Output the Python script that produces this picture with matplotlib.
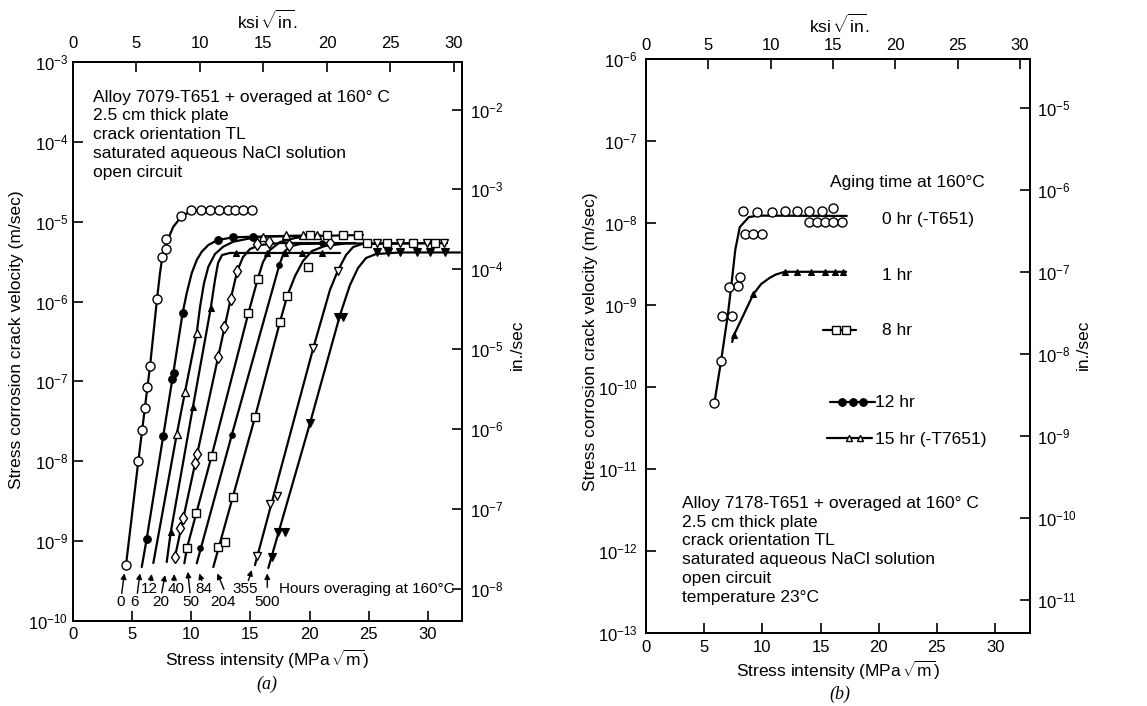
import matplotlib
matplotlib.use("Agg")
import matplotlib.pyplot as plt
from matplotlib.ticker import FixedLocator, NullLocator, LogFormatterSciNotation

plt.rcParams.update({
    "font.family": ["Liberation Sans", "DejaVu Sans"],
    "mathtext.fontset": "custom",
    "mathtext.rm": "Liberation Sans",
    "mathtext.it": "Liberation Sans:italic",
    "mathtext.bf": "Liberation Sans:bold",
    "axes.linewidth": 1.4,
})

M_TO_IN = 39.37  # m/s -> in./sec

# ---------------------------------------------------------------------------
# (a) Alloy 7079-T651 overaged at 160 C : K (MPa*sqrt(m)) vs velocity (m/s)
# ---------------------------------------------------------------------------
hours_a = ["0", "6", "12", "20", "40", "50", "84", "204", "355", "500"]

# 0 hr
k_a0 = [4.48, 5.52, 5.86, 6.09, 6.28, 6.51, 7.10, 7.55, 7.89, 7.89, 9.13,
        9.95, 10.85, 11.60, 12.37, 13.10, 13.72, 14.40, 15.13]
v_a0 = [5.0e-10, 1.0e-8, 2.45e-8, 4.7e-8, 8.6e-8, 1.55e-7, 1.07e-6, 3.65e-6,
        4.5e-6, 6.0e-6, 1.19e-5, 1.4e-5, 1.4e-5, 1.4e-5, 1.4e-5, 1.4e-5,
        1.4e-5, 1.4e-5, 1.4e-5]
fit_k_a0 = [4.48, 5.52, 6.51, 7.10, 7.35, 7.55, 7.78, 8.06, 8.48, 9.04, 9.61,
            10.17, 15.22]
fit_v_a0 = [5.0e-10, 1.0e-8, 1.55e-7, 1.07e-6, 2.26e-6, 3.63e-6, 4.86e-6,
            6.19e-6, 8.65e-6, 1.10e-5, 1.27e-5, 1.37e-5, 1.40e-5]

# 6 hr
k_a6 = [6.23, 7.63, 8.37, 8.51, 9.27, 12.23, 13.55, 15.19]
v_a6 = [1.07e-9, 2.09e-8, 1.07e-7, 1.29e-7, 7.24e-7, 5.9e-6, 6.38e-6, 6.45e-6]
fit_k_a6 = [5.81, 6.23, 7.63, 8.45, 9.27, 9.61, 10.03, 10.46, 10.88, 11.44,
            12.23, 13.55, 15.24, 19.19]
fit_v_a6 = [4.74e-10, 1.07e-9, 2.09e-8, 1.20e-7, 7.24e-7, 1.27e-6, 2.26e-6,
            3.31e-6, 4.21e-6, 5.11e-6, 5.90e-6, 6.38e-6, 6.49e-6, 6.62e-6]

# 12 hr
k_a12 = [8.77, 9.47, 10.46, 16.09, 18.00, 19.47, 20.65]
v_a12 = [2.18e-8, 7.43e-8, 4.07e-7, 6.5e-6, 6.76e-6, 6.76e-6, 6.76e-6]
fit_k_a12 = [6.79, 8.77, 9.47, 10.46, 10.74, 11.07, 11.44, 12.00, 12.70,
             13.55, 14.96, 16.23, 20.88]
fit_v_a12 = [5.32e-10, 2.18e-8, 7.43e-8, 4.07e-7, 8.63e-7, 1.69e-6, 2.73e-6,
             3.94e-6, 4.87e-6, 5.62e-6, 6.19e-6, 6.56e-6, 6.76e-6]

# 20 hr
k_a20 = [8.26, 10.14, 11.64, 13.75, 16.37, 17.92, 19.33, 21.02]
v_a20 = [1.29e-9, 4.82e-8, 8.24e-7, 4.06e-6, 4.06e-6, 4.06e-6, 4.06e-6, 4.06e-6]
fit_k_a20 = [7.92, 8.26, 10.14, 11.64, 12.00, 12.26, 12.60, 13.27, 22.57]
fit_v_a20 = [5.48e-10, 1.29e-9, 4.82e-8, 8.24e-7, 1.86e-6, 3.04e-6, 3.83e-6,
             4.06e-6, 4.06e-6]

# 40 hr
k_a40 = [8.62, 9.07, 9.27, 10.29, 10.51, 12.26, 12.76, 13.33, 13.89, 15.58,
         16.59, 18.26, 21.72]
v_a40 = [6.38e-10, 1.47e-9, 1.93e-9, 9.44e-9, 1.23e-8, 2.0e-7, 4.84e-7,
         1.08e-6, 2.43e-6, 5.26e-6, 5.52e-6, 5.11e-6, 5.37e-6]
fit_k_a40 = [8.62, 12.26, 13.33, 13.89, 14.37, 14.96, 15.81, 17.50, 22.57]
fit_v_a40 = [6.38e-10, 2.0e-7, 1.08e-6, 2.43e-6, 3.61e-6, 4.55e-6, 5.11e-6,
             5.41e-6, 5.41e-6]

# 50 hr
k_a50 = [9.64, 10.40, 11.72, 14.82, 15.61, 20.03, 21.47, 22.82, 24.09]
v_a50 = [8.28e-10, 2.25e-9, 1.17e-8, 7.13e-7, 1.91e-6, 6.81e-6, 6.81e-6,
         6.81e-6, 6.81e-6]
fit_k_a50 = [9.41, 9.64, 11.72, 14.82, 15.61, 16.06, 16.65, 17.50, 18.77,
             20.03, 24.51]
fit_v_a50 = [5.28e-10, 8.28e-10, 1.17e-8, 7.13e-7, 1.91e-6, 3.13e-6, 4.43e-6,
             5.57e-6, 6.25e-6, 6.62e-6, 6.81e-6]

# 84 hr
k_a84 = [10.74, 13.42, 17.44, 21.05]
v_a84 = [8.28e-10, 2.13e-8, 2.87e-6, 5.41e-6]
fit_k_a84 = [10.46, 13.42, 17.44, 17.84, 18.34, 19.19, 23.84]
fit_v_a84 = [5.28e-10, 2.13e-8, 2.87e-6, 4.18e-6, 4.9e-6, 5.26e-6, 5.41e-6]

# 204 hr
k_a204 = [12.28, 12.87, 13.50, 15.38, 17.50, 18.11, 19.89, 24.85, 26.54,
          28.74, 30.60]
v_a204 = [8.38e-10, 9.84e-10, 3.54e-9, 3.56e-8, 5.6e-7, 1.18e-6, 2.69e-6,
          5.41e-6, 5.41e-6, 5.41e-6, 5.41e-6]
fit_k_a204 = [11.86, 15.38, 17.50, 18.11, 18.77, 19.44, 20.20, 21.30, 22.99,
              31.61]
fit_v_a204 = [4.74e-10, 3.56e-8, 5.6e-7, 1.18e-6, 2.09e-6, 3.22e-6, 4.3e-6,
              4.97e-6, 5.33e-6, 5.41e-6]

# 355 hr
k_a355 = [15.53, 16.65, 17.22, 20.31, 22.38, 25.70, 27.64, 29.92, 31.36]
v_a355 = [6.52e-10, 2.89e-9, 3.71e-9, 2.62e-7, 2.43e-6, 5.41e-6, 5.41e-6,
          5.41e-6, 5.41e-6]
fit_k_a355 = [15.38, 20.31, 21.72, 22.38, 23.08, 23.68, 24.43, 31.61]
fit_v_a355 = [5.02e-10, 2.62e-7, 1.40e-6, 2.43e-6, 3.83e-6, 4.82e-6, 5.26e-6,
              5.41e-6]

# 500 hr
k_a500 = [16.80, 17.35, 17.92, 20.03, 22.43, 22.80, 25.67, 26.65, 27.64,
          29.05, 30.18, 31.45]
v_a500 = [6.38e-10, 1.29e-9, 1.29e-9, 2.99e-8, 6.35e-7, 6.35e-7, 4.12e-6,
          4.12e-6, 4.12e-6, 4.12e-6, 4.12e-6, 4.12e-6]
fit_k_a500 = [16.51, 20.03, 22.57, 23.41, 24.09, 24.77, 25.61, 27.64, 32.71]
fit_v_a500 = [4.61e-10, 2.99e-8, 6.79e-7, 1.61e-6, 2.63e-6, 3.51e-6, 3.94e-6,
              4.12e-6, 4.12e-6]

# ---------------------------------------------------------------------------
# (b) Alloy 7178-T651 overaged at 160 C
# ---------------------------------------------------------------------------
legend_b = ["0 hr (-T651)", "1 hr", "8 hr", "12 hr", "15 hr (-T7651)"]

k_b0 = [8.31, 9.52, 10.81, 11.95, 13.01, 14.04, 15.11, 16.11,
        14.04, 14.73, 15.39, 16.11, 16.83,
        8.51, 9.23, 9.95,
        8.08, 7.94, 7.16, 6.56, 7.37, 6.45, 5.87]
v_b0 = [1.41e-8, 1.37e-8, 1.37e-8, 1.40e-8, 1.40e-8, 1.41e-8, 1.41e-8, 1.51e-8,
        1.04e-8, 1.04e-8, 1.04e-8, 1.04e-8, 1.04e-8,
        7.28e-9, 7.28e-9, 7.28e-9,
        2.18e-9, 1.71e-9, 1.64e-9, 7.35e-10, 7.35e-10, 2.07e-10, 6.32e-11]
fit_k_b0 = [5.87, 6.45, 7.02, 7.33, 7.67, 8.06, 8.83, 9.60, 17.26]
fit_v_b0 = [6.32e-11, 2.07e-10, 7.35e-10, 1.71e-9, 4.69e-9, 8.93e-9, 1.18e-8,
            1.23e-8, 1.22e-8]

k_b1 = [7.54, 9.22, 11.93, 12.96, 14.17, 15.36, 16.24, 16.96]
v_b1 = [4.25e-10, 1.35e-9, 2.52e-9, 2.52e-9, 2.52e-9, 2.52e-9, 2.52e-9, 2.52e-9]
fit_k_b1 = [7.41, 7.54, 9.22, 9.89, 10.64, 11.18, 11.93, 17.20]
fit_v_b1 = [3.54e-10, 4.25e-10, 1.35e-9, 1.80e-9, 2.15e-9, 2.36e-9, 2.54e-9,
            2.54e-9]

# ---------------------------------------------------------------------------
OPEN = dict(mfc="white", mec="black", mew=1.0)
FILL = dict(mfc="black", mec="black", mew=0.8)
LINE = dict(color="black", lw=1.6, solid_capstyle="round", zorder=2)

marker_a = {
    "0": dict(marker="o", ms=6.5, **OPEN),
    "6": dict(marker="o", ms=5.5, **FILL),
    "12": dict(marker="^", ms=5.5, **OPEN),
    "20": dict(marker="^", ms=4.0, **FILL),
    "40": dict(marker="d", ms=6.5, **OPEN),
    "50": dict(marker="s", ms=5.5, **OPEN),
    "84": dict(marker="o", ms=4.0, **FILL),
    "204": dict(marker="s", ms=5.5, **OPEN),
    "355": dict(marker="v", ms=6.0, **OPEN),
    "500": dict(marker="v", ms=5.5, **FILL),
}

series_a = {
    "0": (k_a0, v_a0, fit_k_a0, fit_v_a0),
    "6": (k_a6, v_a6, fit_k_a6, fit_v_a6),
    "12": (k_a12, v_a12, fit_k_a12, fit_v_a12),
    "20": (k_a20, v_a20, fit_k_a20, fit_v_a20),
    "40": (k_a40, v_a40, fit_k_a40, fit_v_a40),
    "50": (k_a50, v_a50, fit_k_a50, fit_v_a50),
    "84": (k_a84, v_a84, fit_k_a84, fit_v_a84),
    "204": (k_a204, v_a204, fit_k_a204, fit_v_a204),
    "355": (k_a355, v_a355, fit_k_a355, fit_v_a355),
    "500": (k_a500, v_a500, fit_k_a500, fit_v_a500),
}

fig = plt.figure(figsize=(11.47, 7.06), dpi=100)
W, H = 1147.0, 706.0
K_TICKS = [0, 5, 10, 15, 20, 25, 30]


def decades(lo, hi):
    return [10.0 ** e for e in range(lo, hi + 1)]


def build_panel(left, top, right, bottom, k_max, ksi_max, v_exp, in_exp, pads):
    ax = fig.add_axes([left / W, 1 - bottom / H, (right - left) / W,
                       (bottom - top) / H])
    ax.set_xlim(0, k_max)
    ax.set_yscale("log")
    ax.set_ylim(10.0 ** v_exp[0], 10.0 ** v_exp[1])
    ax.xaxis.set_major_locator(FixedLocator(K_TICKS))
    ax.yaxis.set_major_locator(FixedLocator(decades(*v_exp)))
    ax.yaxis.set_major_formatter(LogFormatterSciNotation())
    ax.yaxis.set_minor_locator(NullLocator())
    ax.tick_params(axis="both", direction="in", length=7, width=1.2,
                   labelsize=12)
    ax.tick_params(axis="x", pad=pads[0])
    ax.tick_params(axis="y", pad=pads[1])

    top_ax = ax.twiny()
    top_ax.set_xlim(0, ksi_max)
    top_ax.xaxis.set_major_locator(FixedLocator(K_TICKS))
    top_ax.tick_params(axis="x", direction="in", length=7, width=1.2,
                       labelsize=12, pad=pads[2])

    right_ax = ax.twinx()
    right_ax.set_yscale("log")
    right_ax.set_ylim(10.0 ** v_exp[0] * M_TO_IN, 10.0 ** v_exp[1] * M_TO_IN)
    right_ax.yaxis.set_major_locator(FixedLocator(decades(*in_exp)))
    right_ax.yaxis.set_major_formatter(LogFormatterSciNotation())
    right_ax.yaxis.set_minor_locator(NullLocator())
    right_ax.tick_params(axis="y", direction="in", length=7, width=1.2,
                         labelsize=12, pad=pads[3])
    for a in (ax, top_ax, right_ax):
        for sp in a.spines.values():
            sp.set_linewidth(1.4)
    return ax


# ----------------------------- panel (a) -----------------------------------
axa = build_panel(73, 62, 462, 621, 32.88, 30.63, (-10, -3), (-8, -2),
                  pads=(4, 3.5, 8, 5.5))

for h in hours_a:
    pk, pv, fk, fv = series_a[h]
    axa.plot(fk, fv, **LINE)
    axa.plot(pk, pv, linestyle="none", zorder=3, **marker_a[h])

info_a = ["Alloy 7079-T651 + overaged at 160° C", "2.5 cm thick plate",
          "crack orientation TL", "saturated aqueous NaCl solution",
          "open circuit"]
for txt, yf in zip(info_a, [0.929, 0.8955, 0.862, 0.8285, 0.795]):
    axa.text(0.0514, yf, txt, transform=axa.transAxes, fontsize=12.5,
             va="baseline", ha="left")

# hour labels with arrows pointing at the start of each curve
label_k = [4.03, 5.24, 6.42, 7.45, 8.71, 9.99, 11.07, 12.71, 14.53, 16.37]
label_v = [1.75e-10, 1.75e-10, 2.49e-10, 1.75e-10, 2.49e-10, 1.75e-10,
           2.49e-10, 1.75e-10, 2.49e-10, 1.75e-10]
tail_k = [4.12, 5.44, 6.57, 7.50, 8.54, 9.89, 10.88, 12.76, 14.82, 16.42]
tail_v = [2.22e-10, 2.22e-10, 3.2e-10, 2.25e-10, 3.2e-10, 2.25e-10, 3.2e-10,
          2.49e-10, 3.2e-10, 2.64e-10]
head_k = [4.34, 5.66, 6.65, 7.78, 8.56, 9.70, 10.68, 12.20, 15.11, 16.42]
head_v = [3.95e-10, 3.95e-10, 3.88e-10, 3.77e-10, 3.88e-10, 4.14e-10,
          3.95e-10, 3.95e-10, 4.35e-10, 3.95e-10]
for i, h in enumerate(hours_a):
    axa.annotate("", xy=(head_k[i], head_v[i]), xytext=(tail_k[i], tail_v[i]),
                 arrowprops=dict(arrowstyle="-|>", color="black", lw=1.0,
                                 mutation_scale=8, shrinkA=0, shrinkB=0))
    axa.text(label_k[i], label_v[i], h, fontsize=11, ha="center",
             va="center")
axa.text(17.44, 2.49e-10, "Hours overaging at 160°C", fontsize=11,
         ha="left", va="center")

fig.text(267.5 / W, 1 - 659 / H, r"Stress intensity (MPa$\,\sqrt{\mathrm{m}}$)",
         fontsize=12.5, ha="center", va="center")
fig.text(267.5 / W, 1 - 20 / H, r"ksi$\,\sqrt{\mathrm{in}}$.",
         fontsize=12.5, ha="center", va="center")
fig.text(17 / W, 1 - 340 / H, "Stress corrosion crack velocity (m/sec)",
         fontsize=12.5, ha="center", va="center", rotation=90)
fig.text(517 / W, 1 - 345 / H, "in./sec", fontsize=12.5, ha="center",
         va="center", rotation=90)
fig.text(267 / W, 1 - 684 / H, "(a)", fontsize=13, ha="center", va="center",
         family="Liberation Serif", style="italic")

# ----------------------------- panel (b) -----------------------------------
axb = build_panel(646, 59, 1030, 633, 33.0, 30.8, (-13, -6), (-11, -5),
                  pads=(5, 6, 4.5, 5))

axb.plot(fit_k_b0, fit_v_b0, **LINE)
axb.plot(k_b0, v_b0, linestyle="none", zorder=3, marker="o", ms=6.5, **OPEN)
axb.plot(fit_k_b1, fit_v_b1, **LINE)
axb.plot(k_b1, v_b1, linestyle="none", zorder=3, marker="^", ms=5, **FILL)

tb = axb.transAxes
axb.text(0.479, 0.7775, "Aging time at 160°C", transform=tb, fontsize=12.5,
         va="baseline")
axb.text(0.614, 0.712, legend_b[0], transform=tb, fontsize=12.5, va="baseline")
axb.text(0.614, 0.615, legend_b[1], transform=tb, fontsize=12.5, va="baseline")
axb.text(0.614, 0.519, legend_b[2], transform=tb, fontsize=12.5, va="baseline")
axb.text(0.596, 0.393, legend_b[3], transform=tb, fontsize=12.5, va="baseline")
axb.text(0.596, 0.329, legend_b[4], transform=tb, fontsize=12.5, va="baseline")

# legend keys for the series whose curves lie outside this range
axb.plot([0.461, 0.547], [0.528, 0.528], transform=tb, **LINE)
axb.plot([0.494, 0.521], [0.528, 0.528], transform=tb, linestyle="none",
         marker="s", ms=5.5, zorder=3, **OPEN)
axb.plot([0.479, 0.596], [0.403, 0.403], transform=tb, **LINE)
axb.plot([0.510, 0.538, 0.566], [0.403] * 3, transform=tb, linestyle="none",
         marker="o", ms=5.5, zorder=3, **FILL)
axb.plot([0.471, 0.589], [0.339, 0.339], transform=tb, **LINE)
axb.plot([0.529, 0.557], [0.339, 0.339], transform=tb, linestyle="none",
         marker="^", ms=5, zorder=3, **OPEN)

info_b = ["Alloy 7178-T651 + overaged at 160° C", "2.5 cm thick plate",
          "crack orientation TL", "saturated aqueous NaCl solution",
          "open circuit", "temperature 23°C"]
for txt, yf in zip(info_b, [0.2172, 0.1841, 0.1533, 0.1197, 0.0866, 0.0535]):
    axb.text(0.093, yf, txt, transform=tb, fontsize=12.5, va="baseline",
             ha="left")

fig.text(838 / W, 1 - 670 / H, r"Stress intensity (MPa$\,\sqrt{\mathrm{m}}$)",
         fontsize=12.5, ha="center", va="center")
fig.text(840 / W, 1 - 24 / H, r"ksi$\,\sqrt{\mathrm{in}}$.",
         fontsize=12.5, ha="center", va="center")
fig.text(590 / W, 1 - 342 / H, "Stress corrosion crack velocity (m/sec)",
         fontsize=12.5, ha="center", va="center", rotation=90)
fig.text(1083 / W, 1 - 345 / H, "in./sec", fontsize=12.5, ha="center",
         va="center", rotation=90)
fig.text(840 / W, 1 - 694 / H, "(b)", fontsize=13, ha="center", va="center",
         family="Liberation Serif", style="italic")

fig.savefig("out.png", dpi=100)
